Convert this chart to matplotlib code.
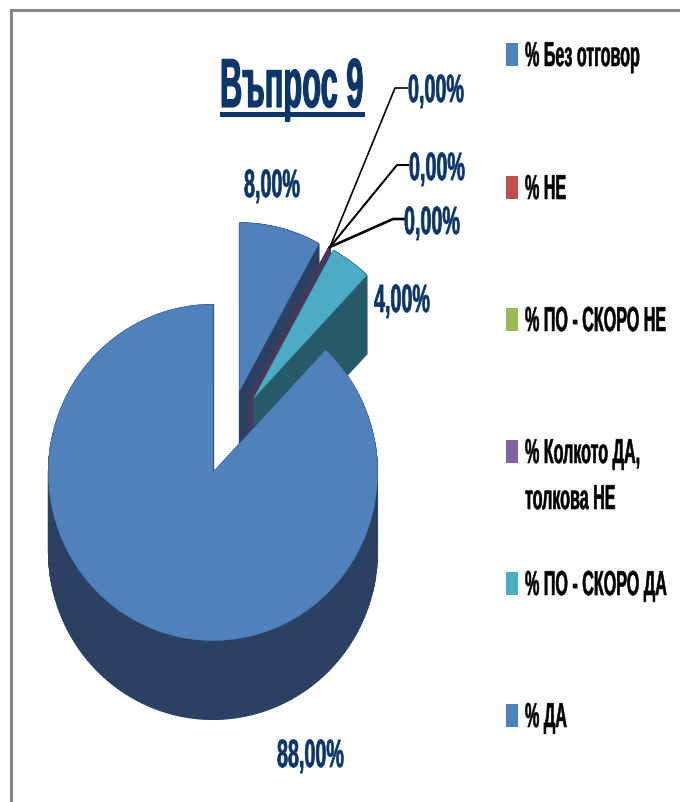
import numpy as np
import matplotlib
matplotlib.use('Agg')
import matplotlib.pyplot as plt
from matplotlib.patheffects import AbstractPathEffect
from matplotlib.transforms import Affine2D

names = ['% Без отговор', '% НЕ', '% ПО - СКОРО НЕ', '% Колкото ДА,\nтолкова НЕ', '% ПО - СКОРО ДА', '% ДА']
values = [8.0, 0.0, 0.0, 0.0, 4.0, 88.0]
top_colors = ['#4f81bd', '#c0504d', '#9bbb59', '#8064a2', '#4bacc6', '#4f81bd']
side_colors = ['#2a4163', '#65302e', '#52612f', '#46385c', '#275a68', '#2a4163']
title = 'Въпрос 9'

plt.rcParams['font.family'] = ['Liberation Sans Narrow', 'Liberation Sans', 'DejaVu Sans']
NAVY = '#0b3668'

# pie geometry in pixels
cx, cy = 228.8, 433.5
rx, ry = 164.5, 168
depth = 79
explode = 43


class Tall(AbstractPathEffect):
    # stretches glyphs upward from the baseline and thickens them a bit,
    # the original text is very condensed and heavy
    def __init__(self, factor, stroke):
        self.factor = factor
        self.stroke = stroke

    def draw_path(self, renderer, gc, tpath, affine, rgbFace=None):
        m = affine.get_matrix().copy()
        m[1, 1] *= self.factor
        gc0 = renderer.new_gc()
        gc0.copy_properties(gc)
        gc0.set_foreground(rgbFace)
        gc0.set_linewidth(self.stroke)
        renderer.draw_path(gc0, tpath, Affine2D(m), rgbFace)
        gc0.restore()


fig = plt.figure(figsize=(6.8, 8.03), dpi=100)
ax = fig.add_axes([0, 0, 1, 1])
ax.set_xlim(0, 680)
ax.set_ylim(803, 0)
ax.axis('off')

# frame
ax.plot([11, 11, 680], [803, 11, 11], color='#868686', lw=2.2, solid_joinstyle='miter')

edges = np.cumsum([0] + values) * 3.6
for i in range(len(values)):
    a0, a1 = np.radians(edges[i]), np.radians(edges[i + 1])
    mid = (a0 + a1) / 2
    ax0 = cx + explode * np.sin(mid)
    ay0 = cy - explode * np.cos(mid)
    t = np.linspace(a0, a1, 200)
    xs = np.r_[ax0, ax0 + rx * np.sin(t)]
    ys = np.r_[ay0, ay0 - ry * np.cos(t)]
    z = 2 + i * 2
    # walls: one quad per outline segment, then the bottom face
    for k in range(len(xs)):
        n = (k + 1) % len(xs)
        ax.fill([xs[k], xs[n], xs[n], xs[k]],
                [ys[k], ys[n], ys[n] + depth, ys[k] + depth],
                color=side_colors[i], lw=0.8, zorder=z)
    if values[i] > 0:
        ax.fill(xs, ys, color=top_colors[i], lw=0.3, zorder=z + 1)

# value labels
label_x = [244, 408, 409, 404, 374, 277]
label_y = [198, 103, 181, 235, 313, 768]
for v, x, y in zip(values, label_x, label_y):
    ax.text(x, y, f'{v:.2f}%'.replace('.', ','), color=NAVY, fontsize=14.2, fontweight='bold',
            va='baseline', zorder=20, path_effects=[Tall(2.0, 0.5)])

# leader lines of the three 0,00% labels
leader_x = [[330, 395, 407], [330, 397, 408], [330, 393, 404]]
leader_y = [[248, 89, 89], [248, 166, 166], [248, 220, 220]]
leader_w = [1.2, 1.5, 1.9]
for lx, ly, lw in zip(leader_x, leader_y, leader_w):
    ax.plot(lx, ly, color='black', lw=lw, zorder=15)

# title
ax.text(220, 108, title, color=NAVY, fontsize=22.2, fontweight='bold', va='baseline',
        zorder=20, path_effects=[Tall(2.25, 0.8)])
ax.fill_between([220, 365], 113, 118, color=NAVY, lw=0)

# legend
legend_y = [55, 188, 320, 452, 584, 716]
for name, col, y in zip(names, top_colors, legend_y):
    ax.fill_between([506, 518], y - 11.5, y + 11.5, color=col, lw=0)
    for j, line in enumerate(name.split('\n')):
        ax.text(525, y + 12 + j * 46, line, color='black', fontsize=11.6, fontweight='bold',
                va='baseline', zorder=20, path_effects=[Tall(2.15, 0.4)])

fig.savefig('out.png', dpi=100)
